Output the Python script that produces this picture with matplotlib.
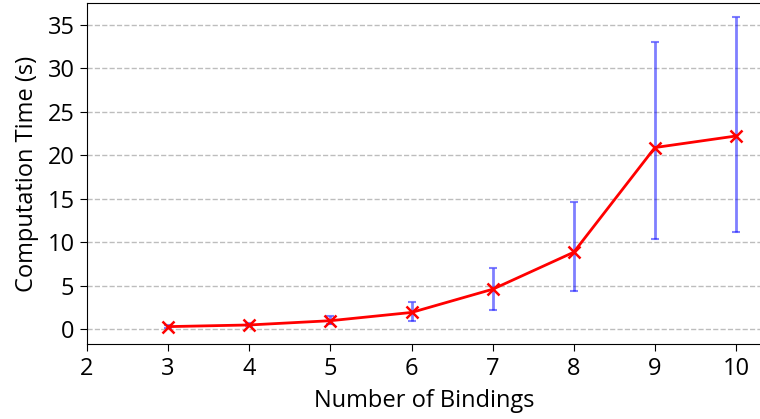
import matplotlib
matplotlib.use('Agg')
import matplotlib.pyplot as plt
import numpy as np

plt.rcParams['font.family'] = ['Open Sans', 'DejaVu Sans']

# number of bindings vs. mean computation time (s)
bindings = [3, 4, 5, 6, 7, 8, 9, 10]
mean_time = [0.27, 0.46, 0.95, 1.9, 4.57, 8.83, 20.87, 22.2]
# lower / upper ends of the error bars
err_low = [0.15, 0.3, 0.55, 0.9, 2.19, 4.37, 10.33, 11.1]
err_high = [0.4, 0.65, 1.45, 3.1, 6.98, 14.66, 33.0, 35.9]

yerr = np.array([np.array(mean_time) - np.array(err_low),
                 np.array(err_high) - np.array(mean_time)])

fig = plt.figure(figsize=(7.6, 4.19), dpi=100)
ax = fig.add_axes([87/760, 75/419, 675/760, 341/419])

ax.errorbar(bindings, mean_time, yerr=yerr, fmt='none', ecolor='blue',
            alpha=0.5, capsize=3, elinewidth=2, capthick=1.5, zorder=2)
ax.plot(bindings, mean_time, color='red', marker='x', markersize=8,
        markeredgewidth=1.8, linewidth=2, zorder=3)

ax.set_xlim(2, 10.32)
ax.set_ylim(-1.73, 37.5)
ax.set_xticks(range(2, 11))
ax.set_yticks(range(0, 36, 5))
ax.grid(axis='y', linestyle='--', color='#bdbdbd', linewidth=1)
ax.set_axisbelow(True)
ax.tick_params(labelsize=17, length=5, pad=4)
ax.set_xlabel('Number of Bindings', fontsize=17, labelpad=6)
ax.set_ylabel('Computation Time (s)', fontsize=17, labelpad=6)

fig.savefig('out.png', dpi=100)
